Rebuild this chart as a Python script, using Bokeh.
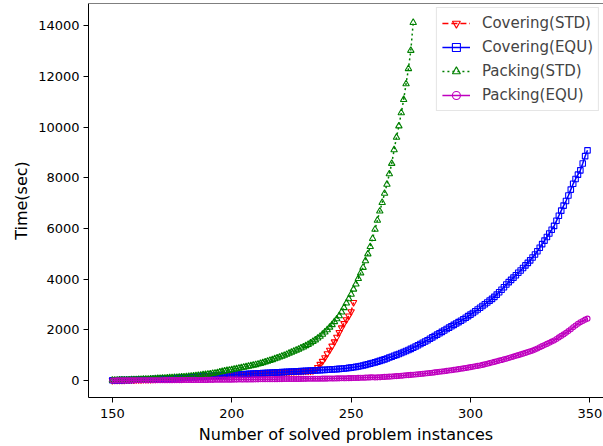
from bokeh.plotting import figure
from bokeh.models import FixedTicker, Range1d, Span, Legend
from bokeh.embed import file_html
from bokeh.resources import INLINE

# Number of solved problem instances start at 150 for every series
x_start = 150

covering_std = [
    6, 8, 10, 12, 14, 16, 18, 20, 22, 25,
    28, 31, 34, 37, 40, 43, 46, 50, 54, 58,
    62, 66, 70, 74, 78, 82, 86, 90, 95, 100,
    105, 110, 115, 120, 126, 132, 138, 144, 150, 156,
    162, 168, 174, 180, 186, 192, 198, 204, 210, 216,
    218, 223, 228, 233, 238, 243, 248, 253, 258, 263,
    268, 273, 278, 283, 288, 293, 298, 303, 308, 313,
    318, 323, 328, 333, 338, 343, 348, 353, 358, 363,
    368, 372, 376, 380, 390, 430, 520, 640, 760, 900,
    1060, 1200, 1360, 1530, 1710, 1900, 2080, 2250, 2400, 2550,
    2720, 3080,
]

covering_equ = [
    8, 10, 12, 14, 16, 18, 20, 23, 26, 29,
    32, 35, 38, 41, 44, 47, 50, 54, 58, 62,
    66, 70, 74, 78, 82, 86, 90, 95, 100, 105,
    110, 116, 122, 128, 134, 140, 146, 152, 158, 164,
    170, 176, 182, 188, 194, 200, 205, 210, 215, 220,
    225, 230, 235, 240, 245, 250, 255, 260, 265, 270,
    275, 280, 285, 290, 295, 300, 305, 310, 315, 320,
    325, 330, 335, 340, 345, 350, 355, 360, 365, 370,
    375, 380, 385, 390, 395, 400, 405, 410, 415, 420,
    426, 432, 438, 444, 450, 458, 466, 476, 486, 498,
    510, 524, 538, 555, 575, 595, 615, 640, 665, 690,
    715, 745, 775, 805, 835, 870, 905, 940, 975, 1010,
    1045, 1085, 1125, 1165, 1205, 1250, 1295, 1340, 1390, 1440,
    1490, 1540, 1590, 1645, 1700, 1755, 1810, 1865, 1920, 1975,
    2030, 2085, 2140, 2195, 2250, 2305, 2360, 2415, 2475, 2540,
    2600, 2665, 2730, 2800, 2870, 2940, 3010, 3080, 3150, 3220,
    3300, 3390, 3480, 3580, 3680, 3790, 3880, 3970, 4060, 4150,
    4250, 4340, 4440, 4540, 4640, 4740, 4850, 4970, 5100, 5240,
    5380, 5520, 5660, 5800, 5950, 6100, 6300, 6500, 6700, 6900,
    7080, 7300, 7530, 7760, 7950, 8120, 8290, 8560, 8850, 9080,
]

packing_std = [
    10, 12, 14, 16, 18, 20, 22, 24, 27, 30,
    33, 36, 40, 44, 48, 53, 58, 63, 69, 75,
    80, 86, 92, 98, 104, 110, 116, 122, 128, 134,
    140, 148, 157, 166, 176, 187, 198, 210, 222, 232,
    245, 260, 275, 290, 310, 330, 350, 370, 390, 405,
    420, 440, 460, 480, 500, 520, 540, 560, 580, 600,
    620, 645, 670, 700, 730, 760, 790, 820, 855, 885,
    920, 955, 990, 1030, 1070, 1110, 1150, 1190, 1235, 1280,
    1320, 1370, 1420, 1480, 1540, 1600, 1670, 1740, 1820, 1910,
    2000, 2100, 2200, 2320, 2430, 2550, 2700, 2870, 3050, 3220,
    3400, 3600, 3800, 4020, 4240, 4460, 4720, 4990, 5280, 5600,
    5960, 6320, 6680, 7020, 7380, 7740, 8150, 8560, 9100, 9590,
    10040, 10560, 11080, 11700, 12300, 13020, 14120,
]

packing_equ = [
    3, 3, 4, 4, 5, 5, 6, 6, 7, 7,
    8, 8, 9, 9, 10, 10, 11, 11, 12, 12,
    13, 13, 14, 14, 15, 15, 16, 16, 17, 17,
    18, 18, 19, 19, 20, 20, 21, 22, 23, 24,
    25, 26, 27, 28, 29, 30, 31, 32, 33, 34,
    35, 36, 37, 38, 39, 40, 41, 42, 43, 44,
    45, 46, 47, 48, 49, 50, 51, 52, 53, 54,
    55, 56, 57, 58, 59, 60, 61, 62, 63, 64,
    65, 66, 67, 68, 69, 70, 71, 72, 73, 74,
    75, 77, 79, 81, 83, 85, 87, 89, 91, 93,
    95, 98, 101, 104, 107, 110, 114, 118, 122, 126,
    120, 125, 130, 136, 142, 148, 154, 160, 167, 174,
    181, 189, 197, 205, 213, 221, 229, 238, 247, 257,
    267, 277, 287, 298, 309, 320, 332, 344, 356, 368,
    381, 394, 407, 420, 434, 448, 463, 478, 494, 510,
    527, 544, 561, 578, 595, 615, 638, 662, 686, 710,
    735, 760, 785, 810, 835, 860, 888, 916, 944, 972,
    1000, 1030, 1060, 1090, 1120, 1150, 1180, 1220, 1265, 1310,
    1355, 1400, 1445, 1490, 1535, 1580, 1640, 1700, 1760, 1820,
    1880, 1950, 2020, 2100, 2170, 2240, 2300, 2350, 2400, 2440,
]

x_ticks = [150, 200, 250, 300, 350]
y_ticks = [0, 2000, 4000, 6000, 8000, 10000, 12000, 14000]

series = [
    ("Covering(STD)", covering_std, "#ff0000", "dashed", "inverted_triangle", 6.5),
    ("Covering(EQU)", covering_equ, "#0000ff", "solid", "square", 5.5),
    ("Packing(STD)", packing_std, "#008000", "dotted", "triangle", 6.5),
    ("Packing(EQU)", packing_equ, "#bf00bf", "solid", "circle", 5),
]

FONT = "DejaVu Sans"

p = figure(frame_width=515, frame_height=394, output_backend="svg", toolbar_location=None,
           x_range=Range1d(140, 355.7), y_range=Range1d(-670, 14872),
           min_border_left=88, min_border_right=0, min_border_top=3, min_border_bottom=10)

p.background_fill_color = "white"
p.border_fill_color = "white"
p.outline_line_color = None
p.grid.visible = False

dash_map = {"dashed": "6 3", "dotted": "2 3", "solid": "solid"}
items = []
for label, vals, color, dash, marker, size in series:
    xs = list(range(x_start, x_start + len(vals)))
    r1 = p.line(xs, vals, line_color=color, line_width=1.5, line_dash=dash_map[dash])
    r2 = p.scatter(xs, vals, marker=marker, size=size, line_color=color,
                   fill_color=None, line_width=1.1)
    items.append((label, [r1, r2]))

legend = Legend(items=items, location="top_right")
legend.label_text_font = FONT
legend.label_text_font_size = "15px"
legend.glyph_width = 28
legend.glyph_height = 20
legend.spacing = 4
legend.padding = 5
legend.margin = 4
legend.label_standoff = 12
legend.border_line_color = "#cccccc"
legend.border_line_width = 1
legend.background_fill_alpha = 0.8
p.add_layout(legend)

p.add_layout(Span(location=14872, dimension="width", line_color="black", line_width=1))

for ax in (p.xaxis[0], p.yaxis[0]):
    ax.major_label_text_font = FONT
    ax.major_label_text_font_size = "13px"
    ax.major_label_text_color = "black"
    ax.axis_label_text_font = FONT
    ax.axis_label_text_font_size = "16px"
    ax.axis_label_text_font_style = "normal"
    ax.axis_label_text_color = "black"
    ax.axis_line_color = "black"
    ax.major_tick_line_color = "black"
    ax.major_tick_out = 5
    ax.major_tick_in = 0
    ax.minor_tick_line_color = None

p.xaxis[0].ticker = FixedTicker(ticks=x_ticks)
p.yaxis[0].ticker = FixedTicker(ticks=y_ticks)
p.xaxis[0].axis_label = "Number of solved problem instances"
p.yaxis[0].axis_label = "Time(sec)"
p.xaxis[0].major_label_standoff = 6
p.xaxis[0].axis_label_standoff = 4
p.yaxis[0].major_label_standoff = 4
p.yaxis[0].axis_label_standoff = 4

open("out.html", "w").write(file_html(p, INLINE))
